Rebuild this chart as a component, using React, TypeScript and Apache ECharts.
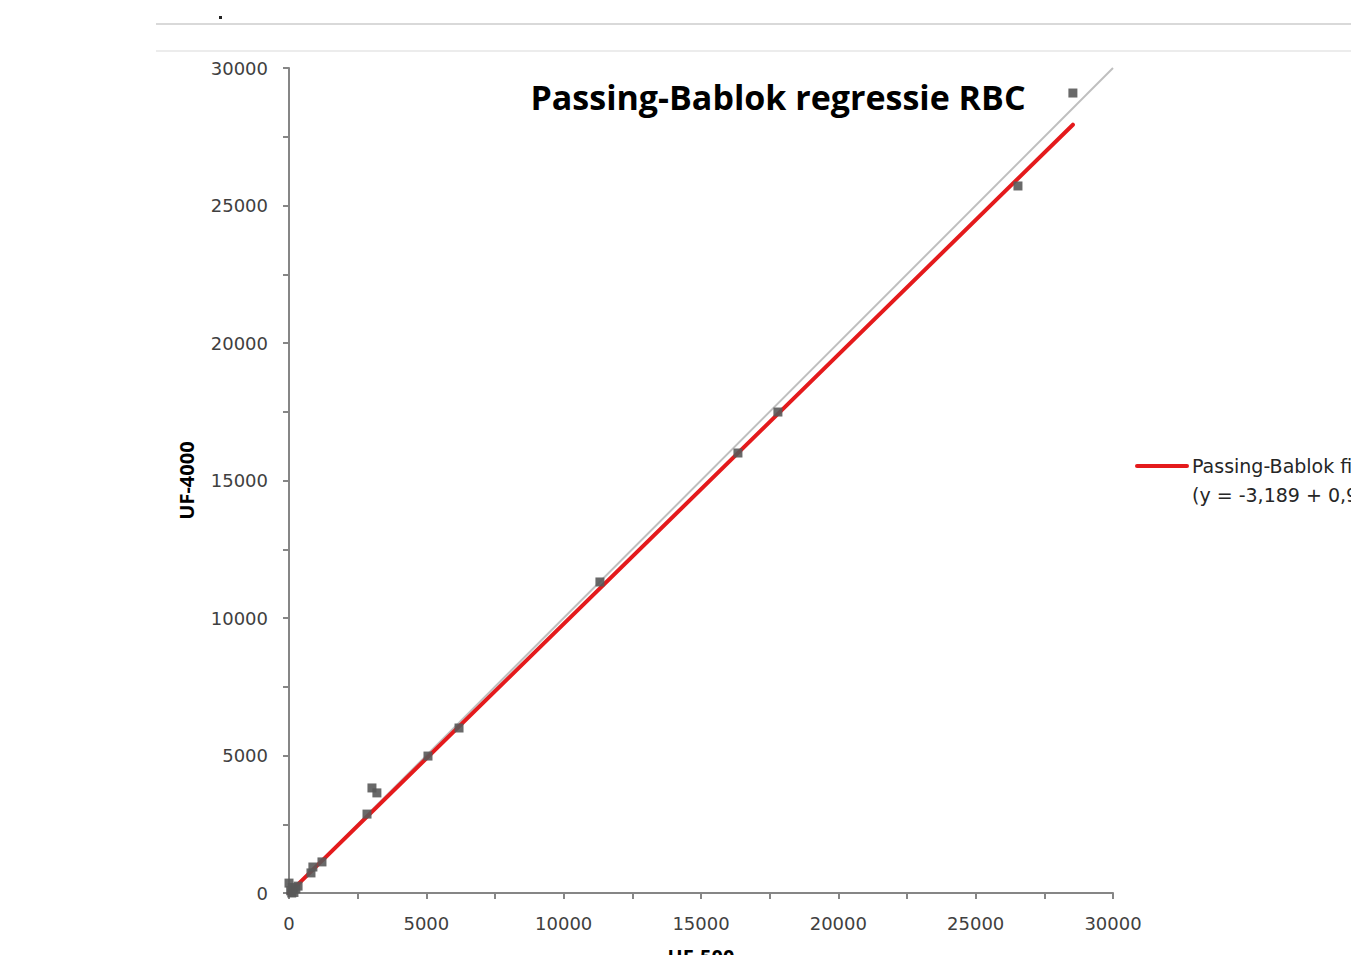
import React, { useEffect, useRef } from "react";
import * as echarts from "echarts";

const titleText = "Passing-Bablok regressie RBC";
const xName = "UF-500";
const yName = "UF-4000";
const legendLine1 = "Passing-Bablok fit";
const legendLine2 = "(y = -3,189 + 0,980x)";

// measured points [UF-500, UF-4000]
const uf500 = [0, 60, 120, 180, 250, 330, 100, 800, 870, 1200, 2840, 3020, 3200, 5060, 6190, 11320, 16345, 17800, 26540, 28540];
const uf4000 = [360, 80, 200, 20, 150, 250, 0, 730, 945, 1130, 2870, 3820, 3640, 4980, 6000, 11310, 16000, 17490, 25710, 29090];

// Passing-Bablok fit line endpoints
const fitX = [0, 28540];
const fitY = [-3.189, 27937];

// identity line endpoints
const idX = [0, 30000];
const idY = [0, 30000];

export default function App() {
  const ref = useRef<HTMLDivElement>(null);
  useEffect(() => {
    const chart = echarts.init(ref.current!, undefined, { renderer: "svg" });
    const axisFont = { fontFamily: "DejaVu Sans", fontSize: 18, color: "#404040", formatter: (v: number) => String(v) };
    chart.setOption({
      animation: false,
      backgroundColor: "#ffffff",
      grid: { left: 289, right: 238, top: 68, bottom: 62, containLabel: false, outerBoundsMode: "none" },
      xAxis: {
        type: "value",
        min: 0,
        max: 30000,
        interval: 5000,
        name: xName,
        nameLocation: "middle",
        nameGap: 53,
        nameTextStyle: { fontFamily: "Noto Sans", fontSize: 20, color: "#000", fontWeight: "bold" },
        axisLine: { show: true, onZero: false, lineStyle: { color: "#868686", width: 2 } },
        axisTick: { show: true, length: 6, inside: false, lineStyle: { color: "#868686", width: 2 } },
        minorTick: { show: true, splitNumber: 2, length: 6, lineStyle: { color: "#868686", width: 2 } },
        splitLine: { show: false },
        axisLabel: { ...axisFont, margin: 21 },
      },
      yAxis: {
        type: "value",
        min: 0,
        max: 30000,
        interval: 5000,
        name: yName,
        nameLocation: "middle",
        nameGap: 93,
        nameTextStyle: { fontFamily: "Noto Sans", fontSize: 20, color: "#000", fontWeight: "bold" },
        axisLine: { show: true, onZero: false, lineStyle: { color: "#868686", width: 2 } },
        axisTick: { show: true, length: 6, lineStyle: { color: "#868686", width: 2 } },
        minorTick: { show: true, splitNumber: 2, length: 6, lineStyle: { color: "#868686", width: 2 } },
        splitLine: { show: false },
        axisLabel: { ...axisFont, margin: 21 },
      },
      graphic: [
        { type: "line", shape: { x1: 156, y1: 24, x2: 1351, y2: 24 }, style: { stroke: "#d9d9d9", lineWidth: 2 } },
        { type: "line", shape: { x1: 156, y1: 51, x2: 1351, y2: 51 }, style: { stroke: "#ececec", lineWidth: 2 } },
        { type: "rect", shape: { x: 219, y: 16, width: 3, height: 3 }, style: { fill: "#222" } },
        {
          type: "text",
          x: 778,
          y: 97,
          style: {
            text: titleText,
            font: "bold 34px 'Open Sans'",
            fill: "#000",
            align: "center",
            verticalAlign: "middle",
          },
        },
        { type: "line", shape: { x1: 1137, y1: 466, x2: 1187, y2: 466 }, style: { stroke: "#e41a1c", lineWidth: 4, lineCap: "round" } },
        {
          type: "text",
          x: 1192,
          y: 466,
          style: { text: legendLine1, font: "19px 'DejaVu Sans'", fill: "#262626", verticalAlign: "middle" },
        },
        {
          type: "text",
          x: 1192,
          y: 495,
          style: { text: legendLine2, font: "19px 'DejaVu Sans'", fill: "#262626", verticalAlign: "middle" },
        },
      ],
      series: [
        {
          type: "line",
          data: idX.map((x, i) => [x, idY[i]]),
          symbol: "none",
          lineStyle: { color: "#bfbfbf", width: 2 },
          silent: true,
          z: 1,
        },
        {
          type: "line",
          data: fitX.map((x, i) => [x, fitY[i]]),
          symbol: "none",
          lineStyle: { color: "#e41a1c", width: 4, cap: "round" },
          silent: true,
          z: 2,
        },
        {
          type: "scatter",
          data: uf500.map((x, i) => [x, uf4000[i]]),
          symbol: "rect",
          symbolSize: 9,
          itemStyle: { color: "#595959", opacity: 0.9 },
          z: 3,
        },
      ],
    });
    return () => chart.dispose();
  }, []);
  return <div ref={ref} style={{ position: "absolute", left: 0, top: 0, width: 1351, height: 955 }} />;
}
